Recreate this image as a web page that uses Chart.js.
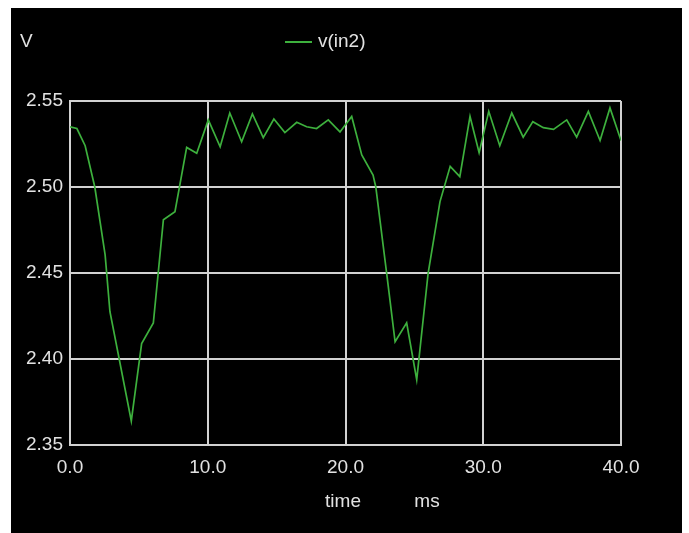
<!DOCTYPE html>
<html>
<head>
<meta charset="utf-8">
<script src="https://cdn.jsdelivr.net/npm/chart.js@4/dist/chart.umd.min.js"></script>
<style>
  html, body { margin: 0; padding: 0; background: #ffffff; }
  #wrap { position: absolute; left: 0; top: 0; width: 689px; height: 533px; }
</style>
</head>
<body>
<div id="wrap"><canvas id="c" width="689" height="533"></canvas></div>
<script>
// Transient waveform v(in2), sampled in milliseconds
const timeMs = [
  0.0, 0.5, 1.1, 1.8, 2.55, 2.9, 4.45, 5.2, 6.05, 6.78, 7.62, 8.47, 9.2,
  10.04, 10.9, 11.6, 12.46, 13.24, 14.03, 14.8, 15.6, 16.46, 17.18, 17.9,
  18.75, 19.6, 20.45, 21.18, 22.0, 22.2, 23.0, 23.6, 24.44, 25.17, 26.0,
  26.86, 27.6, 28.3, 29.04, 29.7, 30.4, 31.2, 32.07, 32.9, 33.6, 34.36,
  35.1, 36.06, 36.78, 37.63, 38.48, 39.2, 40.0
];
const voltage = [
  2.535, 2.534, 2.524, 2.500, 2.4605, 2.4275, 2.364, 2.409, 2.421, 2.481, 2.4856, 2.523, 2.5196,
  2.539, 2.5234, 2.543, 2.5263, 2.5425, 2.5287, 2.5395, 2.5316, 2.5376, 2.535, 2.534,
  2.539, 2.532, 2.541, 2.5186, 2.507, 2.500, 2.449, 2.410, 2.421, 2.388, 2.450,
  2.4915, 2.512, 2.506, 2.541, 2.520, 2.544, 2.524, 2.543, 2.529, 2.538, 2.5345,
  2.5335, 2.539, 2.529, 2.544, 2.527, 2.546, 2.527
];
const xTicks = [0, 10, 20, 30, 40];
const yTicks = [2.35, 2.40, 2.45, 2.50, 2.55];
const seriesName = 'v(in2)';
const yUnit = 'V';
const xTitle = 'time';
const xUnit = 'ms';

const FONT = '"Liberation Sans Narrow", "Liberation Sans", Arial, sans-serif';
const TEXT = '#e2e2e2';
const GRID = '#d2d2d2';
const LINE = '#3db03d';

const points = timeMs.map((t, i) => ({ x: t, y: voltage[i] }));

// black panel, unit labels and legend
const decor = {
  id: 'decor',
  beforeDraw(chart) {
    const ctx = chart.ctx;
    ctx.save();
    ctx.fillStyle = '#ffffff';
    ctx.fillRect(0, 0, chart.width, chart.height);
    ctx.fillStyle = '#000000';
    ctx.fillRect(11, 8, 671, 525);
    ctx.restore();
  },
  afterDraw(chart) {
    const ctx = chart.ctx;
    ctx.save();
    ctx.fillStyle = TEXT;
    ctx.font = '19px ' + FONT;
    ctx.textBaseline = 'middle';
    ctx.textAlign = 'left';
    ctx.fillText(yUnit, 20, 42);
    // legend
    ctx.strokeStyle = LINE;
    ctx.lineWidth = 2;
    ctx.beginPath();
    ctx.moveTo(285, 42);
    ctx.lineTo(312, 42);
    ctx.stroke();
    ctx.fillText(seriesName, 318, 42);
    // x axis title with unit
    ctx.textAlign = 'center';
    ctx.fillText(xTitle, 343, 502);
    ctx.fillText(xUnit, 427, 502);
    ctx.restore();
  }
};

new Chart(document.getElementById('c'), {
  type: 'line',
  data: {
    datasets: [{
      label: seriesName,
      data: points,
      borderColor: LINE,
      borderWidth: 1.7,
      pointRadius: 0,
      tension: 0,
      fill: false
    }]
  },
  options: {
    responsive: false,
    animation: false,
    events: [],
    layout: { padding: { left: 0, right: 68, top: 101, bottom: 0 } },
    plugins: { legend: { display: false }, tooltip: { enabled: false } },
    scales: {
      x: {
        type: 'linear',
        min: 0, max: 40,
        afterFit(scale) { scale.height = 88; },
        afterBuildTicks(scale) { scale.ticks = xTicks.map(v => ({ value: v })); },
        grid: { color: GRID, lineWidth: 2, drawTicks: false },
        border: { color: GRID, width: 2 },
        ticks: {
          color: TEXT, font: { family: FONT, size: 19 }, padding: 11,
          maxRotation: 0,
          callback: v => Number(v).toFixed(1)
        }
      },
      y: {
        type: 'linear',
        min: 2.35, max: 2.55,
        afterFit(scale) { scale.width = 70; },
        afterBuildTicks(scale) { scale.ticks = yTicks.map(v => ({ value: v })); },
        grid: { color: GRID, lineWidth: 2, drawTicks: false },
        border: { color: GRID, width: 2 },
        ticks: {
          color: TEXT, font: { family: FONT, size: 19 }, padding: 7,
          callback: v => Number(v).toFixed(2)
        }
      }
    }
  },
  plugins: [decor]
});
</script>
</body>
</html>
